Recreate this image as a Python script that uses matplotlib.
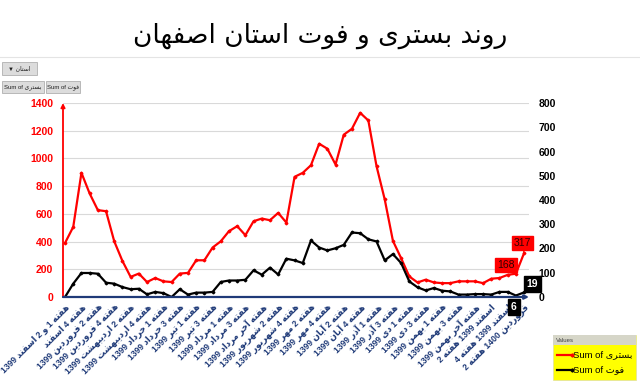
import numpy as np
import matplotlib
matplotlib.use("Agg")
import matplotlib.pyplot as plt
from matplotlib.patches import Rectangle
from matplotlib.lines import Line2D

# ---------------- data ----------------
hospitalized = [390, 506, 896, 747, 627, 619, 402, 260, 145, 169,
                108, 137, 113, 108, 169, 174, 265, 265, 357, 402,
                475, 511, 446, 547, 566, 554, 607, 537, 867, 896,
                951, 1106, 1070, 956, 1171, 1214, 1329, 1274, 944, 704,
                405, 280, 148, 105, 125, 105, 100, 100, 113, 113,
                113, 100, 132, 137, 160, 168, 317]
deaths = [0, 55, 99, 99, 96, 59, 55, 41, 32, 34,
          11, 21, 16, 0, 32, 10, 18, 18, 21, 62,
          68, 68, 71, 110, 92, 121, 93, 158, 151, 140,
          233, 204, 192, 201, 215, 266, 263, 238, 229, 151,
          177, 140, 64, 40, 27, 37, 26, 23, 10, 10,
          12, 12, 10, 21, 21, 6, 19]
tick_labels = ["هفته 1 و 2 اسفند 1399", "هفته 4 اسفند", "هفته 2 فروردین 1399",
               "هفته 4 فروردین 1399", "هفته 2 اردیبهشت 1399", "هفته 4 اردیبهشت 1399",
               "هفته 1 خرداد 1399", "هفته 3 خرداد 1399", "هفته 1 تیر 1399",
               "هفته 3 تیر 1399", "هفته 1 مرداد 1399", "هفته 3 مرداد 1399",
               "هفته آخر مرداد 1399", "هفته 2 شهریور 1399", "هفته 4 شهریور 1399",
               "هفته 2 مهر 1399", "هفته 4 مهر 1399", "هفته 2 آبان 1399",
               "هفته 4 آبان 1399", "هفته 1 آذر 1399", "هفته 3 آذر 1399",
               "هفته 1 دی 1399", "هفته 3 دی 1399", "هفته 1 بهمن 1399",
               "هفته 3 بهمن 1399", "هفته آخر بهمن 1399", "اسفند 1399 هفته 2",
               "اسفند 1399 هفته 4", "فروردین 1400 هفته 2"]
left_ticks = [0, 200, 400, 600, 800, 1000, 1200, 1400]
right_ticks = [0, 100, 200, 300, 400, 500, 600, 700, 800]
title_text = "روند بستری و فوت استان اصفهان"
series_names = ["Sum of بستری", "Sum of فوت"]
filter_name = "استان"

# ------------- minimal Arabic shaping + bidi -------------
FORMS = {
    'ا': ('\uFE8D', '\uFE8E', None, None),
    'آ': ('\uFE81', '\uFE82', None, None),
    'ب': ('\uFE8F', '\uFE90', '\uFE91', '\uFE92'),
    'ت': ('\uFE95', '\uFE96', '\uFE97', '\uFE98'),
    'خ': ('\uFEA5', '\uFEA6', '\uFEA7', '\uFEA8'),
    'د': ('\uFEA9', '\uFEAA', None, None),
    'ذ': ('\uFEAB', '\uFEAC', None, None),
    'ر': ('\uFEAD', '\uFEAE', None, None),
    'ز': ('\uFEAF', '\uFEB0', None, None),
    'س': ('\uFEB1', '\uFEB2', '\uFEB3', '\uFEB4'),
    'ش': ('\uFEB5', '\uFEB6', '\uFEB7', '\uFEB8'),
    'ص': ('\uFEB9', '\uFEBA', '\uFEBB', '\uFEBC'),
    'ف': ('\uFED1', '\uFED2', '\uFED3', '\uFED4'),
    'م': ('\uFEE1', '\uFEE2', '\uFEE3', '\uFEE4'),
    'ن': ('\uFEE5', '\uFEE6', '\uFEE7', '\uFEE8'),
    'ه': ('\uFEE9', '\uFEEA', '\uFEEB', '\uFEEC'),
    'و': ('\uFEED', '\uFEEE', None, None),
    'ی': ('\uFEEF', '\uFEF0', '\uFEF3', '\uFEF4'),
}


def shape_word(w):
    out = []
    n = len(w)
    for i, ch in enumerate(w):
        if ch not in FORMS:
            out.append(ch)
            continue
        iso, fin, ini, med = FORMS[ch]
        prev = w[i - 1] if i > 0 else None
        nxt = w[i + 1] if i < n - 1 else None
        cp = prev in FORMS and FORMS[prev][2] is not None
        cn = ini is not None and nxt in FORMS
        if cp and cn:
            out.append(med)
        elif cp:
            out.append(fin)
        elif cn:
            out.append(ini)
        else:
            out.append(iso)
    return ''.join(reversed(out))


def is_ar(tok):
    return any('\u0600' <= c <= '\u06FF' for c in tok)


def rtl(text):
    toks = text.split(' ')
    return ' '.join(shape_word(t) if is_ar(t) else t for t in reversed(toks))


def ltr(text):
    return ' '.join(shape_word(t) if is_ar(t) else t for t in text.split(' '))


# ---------------- figure ----------------
W, H = 640, 382
fig = plt.figure(figsize=(W / 100, H / 100), dpi=100)
fig.patch.set_facecolor('white')


def fx(x):
    return x / W


def fy(y):
    return 1 - y / H


NAVY = '#1F3A78'
RED = '#FF0000'
FAM = ['Liberation Sans', 'DejaVu Sans']

ax_l, ax_r, ax_t, ax_b = 63, 529, 103, 297
ax = fig.add_axes([fx(ax_l), fy(ax_b), fx(ax_r) - fx(ax_l), fy(ax_t) - fy(ax_b)])
ax2 = ax.twinx()

x = np.arange(len(hospitalized))
ax.plot(x, hospitalized, color=RED, lw=1.6, marker='D', ms=1.4, zorder=3)
ax2.plot(x, deaths, color='black', lw=1.6, marker='D', ms=1.4, zorder=3)

ax.set_xlim(-0.25, 56.6)
ax.set_ylim(0, 1400)
ax2.set_ylim(0, 800)

ax.set_yticks(left_ticks)
ax.set_yticklabels([str(v) for v in left_ticks], color=RED, fontweight='bold',
                   fontsize=7.5, family=FAM)
ax2.set_yticks(right_ticks)
ax2.set_yticklabels([str(v) for v in right_ticks], color='black', fontweight='bold',
                    fontsize=7.5, family=FAM)
ax.tick_params(axis='y', length=0, pad=7)
ax2.tick_params(axis='y', length=0, pad=7)

ax.set_xticks(np.arange(0, len(hospitalized), 2))
ax.set_xticklabels([rtl(t) for t in tick_labels], rotation=45, ha='right',
                   rotation_mode='anchor', color=NAVY, fontweight='bold',
                   fontsize=6.2, family=FAM)
ax.tick_params(axis='x', length=0, pad=4)

ax.grid(axis='y', color='#D9D9D9', lw=0.8)
ax.set_axisbelow(True)
for a in (ax, ax2):
    for s in a.spines.values():
        s.set_visible(False)

# axis lines with arrows
ax.annotate('', xy=(0, 1.0), xytext=(0, 0), xycoords='axes fraction',
            arrowprops=dict(arrowstyle='-|>', color=RED, lw=1.3,
                            mutation_scale=6, shrinkA=0, shrinkB=0))
ax2.annotate('', xy=(1.0, 0), xytext=(0, 0), xycoords='axes fraction',
             arrowprops=dict(arrowstyle='-|>', color=NAVY, lw=1.6,
                             mutation_scale=6, shrinkA=0, shrinkB=0), zorder=5)

# data labels
ax.annotate(str(hospitalized[55]), xy=(55, hospitalized[55]), xytext=(-7, 6),
            textcoords='offset points', ha='center', va='center', fontsize=7.5,
            family=FAM, color='#300000',
            bbox=dict(boxstyle='square,pad=0.2', fc=RED, ec=RED),
            arrowprops=dict(arrowstyle='-', color=RED, lw=1.0, shrinkA=0, shrinkB=1),
            zorder=6)
ax.annotate(str(hospitalized[56]), xy=(56, hospitalized[56]), xytext=(-1, 7),
            textcoords='offset points', ha='center', va='center', fontsize=7.5,
            family=FAM, color='#300000',
            bbox=dict(boxstyle='square,pad=0.2', fc=RED, ec=RED),
            arrowprops=dict(arrowstyle='-', color=RED, lw=1.0, shrinkA=0, shrinkB=1),
            zorder=6)
ax2.annotate(str(deaths[56]), xy=(56, deaths[56]), xytext=(6, 6),
             textcoords='offset points', ha='center', va='center', fontsize=7.5,
             family=FAM, color='white', fontweight='bold',
             bbox=dict(boxstyle='square,pad=0.25', fc='black', ec='black'),
             zorder=7, annotation_clip=False)
ax2.annotate(str(deaths[55]), xy=(55, deaths[55]), xytext=(-1.5, -8),
             textcoords='offset points', ha='center', va='center', fontsize=7.5,
             family=FAM, color='white', fontweight='bold',
             bbox=dict(boxstyle='square,pad=0.3', fc='black', ec='black'),
             zorder=7, annotation_clip=False)

# title
fig.text(0.5, fy(36), rtl(title_text), ha='center', va='center', fontsize=19,
         family=['DejaVu Sans'], color='black')

# faint chart-area border line
fig.add_artist(Line2D([0, 1], [fy(57), fy(57)], color='#E4E4E4', lw=0.8))

# top-left field buttons
def button(x0, y0, x1, y1, txt):
    fig.add_artist(Rectangle((fx(x0), fy(y1)), fx(x1) - fx(x0), fy(y0) - fy(y1),
                             fc='#DCDCDC', ec='#B0B0B0', lw=0.6))
    fig.text(fx((x0 + x1) / 2), fy((y0 + y1) / 2), txt, ha='center', va='center',
             fontsize=4.3, family=FAM, color='#202020')

button(2, 62, 37, 75, '\u25BC ' + rtl(filter_name))
button(2, 81, 44, 93, ltr(series_names[0]))
button(46, 81, 80, 93, ltr(series_names[1]))

# legend box
fig.add_artist(Rectangle((fx(553), fy(380)), fx(636) - fx(553), fy(335) - fy(380),
                         fc='#FFFF00', ec='#E0E0A0', lw=0.5))
fig.add_artist(Rectangle((fx(553), fy(345)), fx(636) - fx(553), fy(335) - fy(345),
                         fc='#D6D6C8', ec='none'))
fig.text(fx(556), fy(340.5), 'Values', ha='left', va='center', fontsize=4.3,
         family=FAM, color='#404040')
for yy, col, name in [(355, RED, series_names[0]), (370, 'black', series_names[1])]:
    fig.add_artist(Line2D([fx(557), fx(572)], [fy(yy), fy(yy)], color=col, lw=1.6,
                          marker='D', ms=1.6, markevery=[1]))
    fig.text(fx(573), fy(yy), ltr(name), ha='left', va='center', fontsize=6.8,
             family=FAM, color='black')

fig.savefig('out.png', dpi=100)
